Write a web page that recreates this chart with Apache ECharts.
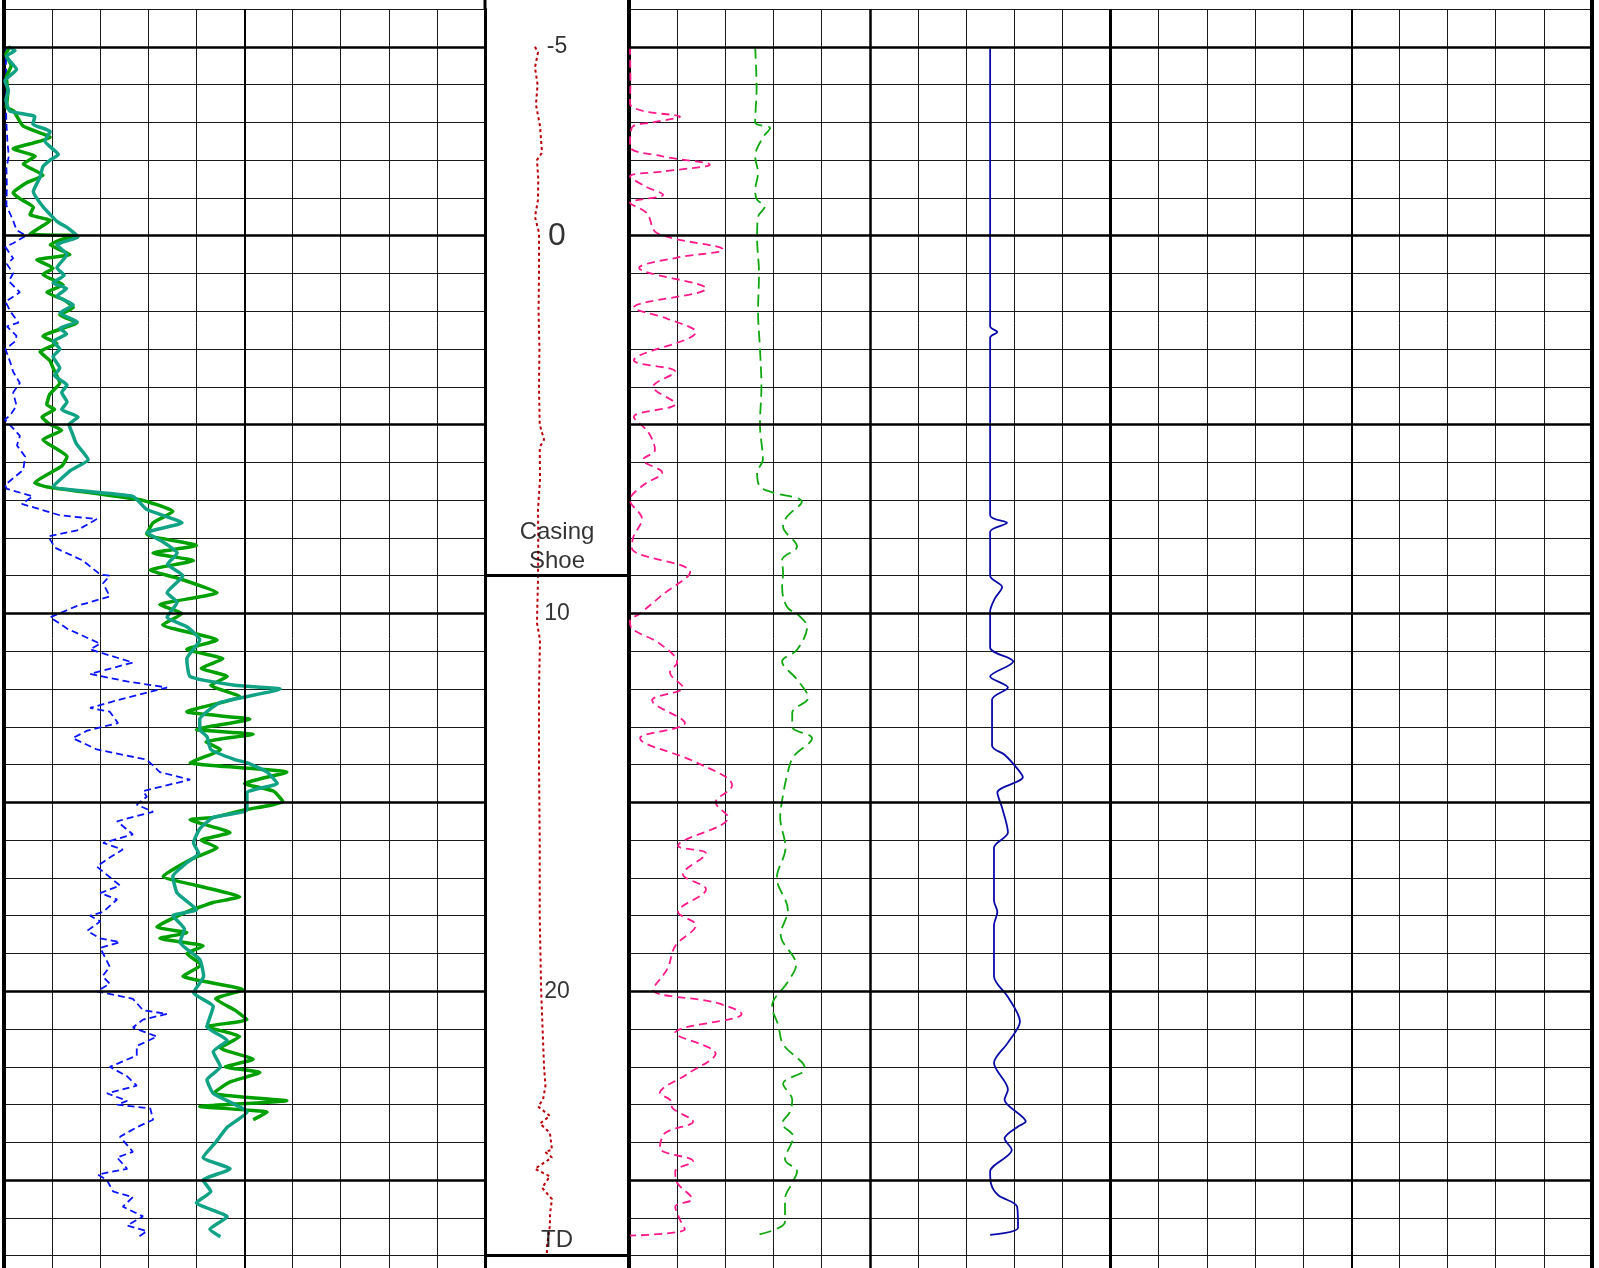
<!DOCTYPE html>
<html><head><meta charset="utf-8">
<script src="https://cdn.jsdelivr.net/npm/echarts@6/dist/echarts.min.js"></script>
<style>html,body{margin:0;padding:0;background:#fff}#c{width:1599px;height:1268px}</style>
</head><body><div id="c"></div>
<script>
// ---------- Track 1 (left) ----------
const blueDepth = [-5,-4.5,-4,-3.5,-3,-2.5,-2.1,-1.8,-1.3,-0.8,-0.4,-0.15,0,0.2,0.3,0.6,0.75,1.0,1.2,1.5,1.75,2.0,2.3,2.4,2.65,2.8,3.0,3.35,3.6,3.9,4.15,4.5,4.75,4.87,5.1,5.3,5.55,5.85,6.2,6.6,6.7,6.9,7.1,7.4,7.5,7.8,7.96,8.26,8.6,8.97,9.0,9.2,9.55,9.8,10.1,10.4,10.8,10.95,11.3,11.6,11.8,11.96,12.3,12.5,12.6,12.9,13.1,13.3,13.6,13.87,14.2,14.4,14.7,14.85,15.06,15.25,15.5,15.85,16.07,16.25,16.46,16.7,17.2,17.4,17.57,17.9,18.0,18.15,18.4,18.6,18.7,18.85,19.1,19.35,19.6,19.8,20.0,20.2,20.5,20.6,20.75,20.96,21.2,21.45,21.7,22.0,22.25,22.5,22.7,22.9,23.0,23.1,23.4,23.6,23.85,24.25,24.4,24.7,24.85,25.0,25.3,25.45,25.7,25.96,26.2,26.35,26.5];
const blueVal = [0.5,0.4,0.6,0.4,0.5,0.7,1.0,0.5,0.6,0.5,1.9,2.6,4.6,1.9,0.3,1.9,0.6,1.9,1.0,3.3,0.3,1.3,3.0,0.6,2.6,2.3,0.3,1.3,1.9,3.3,1.9,2.6,1.3,0.2,1.9,3.3,2.7,4.4,4.0,0.2,0.6,6.0,3.7,11.6,19.3,15.2,9.2,10.6,16.4,20,22,20.6,22,15.2,9.6,13.1,20,17.9,26.8,17.9,25.6,33.9,23.5,17.9,22,23.7,17.3,14.3,19.3,29.7,32.4,38.7,28.9,29.7,27.6,31,23.5,26.8,20.6,24.7,22,19.3,24.1,20,23.5,20.6,17.9,20,17.3,20,24.1,20,21,22,20.5,22,19.3,26.8,28.9,33.9,28.9,26.8,31.8,27.6,27.6,22,25.6,27.6,21.4,25.6,23.5,30.4,31,27.6,24.1,26.8,23.5,25.6,19.5,21.4,22.7,26.8,24.7,28.9,25.6,29.7,28];

const tealDepth = [-5,-4.9,-4.75,-4.4,-4.1,-3.85,-3.6,-3.3,-3.15,-2.95,-2.76,-2.5,-2.15,-2.0,-1.83,-1.55,-1.17,-0.77,-0.38,-0.2,0.03,0.24,0.5,0.85,1.05,1.25,1.4,1.6,1.83,2.05,2.28,2.45,2.6,2.8,3.0,3.2,3.5,3.7,3.95,4.15,4.4,4.6,4.8,5.0,5.2,5.5,5.93,6.2,6.64,6.9,7.25,7.6,7.86,8.1,8.4,8.7,9.0,9.45,9.7,10.1,10.35,10.7,11.2,11.67,11.9,12.0,12.36,12.8,13.07,13.26,13.6,13.87,13.95,14.2,14.5,14.74,15.2,15.4,15.7,16.07,16.35,16.6,16.96,17.4,17.84,18.0,18.35,18.7,19.16,19.6,20.04,20.4,20.94,21.3,21.6,22.0,22.34,22.7,23.2,23.6,24.0,24.4,24.7,25.0,25.3,25.6,25.97,26.3,26.5];
const tealVal = [0.9,2.3,0.5,2.6,0.2,0.9,0.4,1.2,6.4,6,9.6,8.5,11.3,9.6,8.1,7.5,6.1,8.1,11,13.3,15.4,11,13.1,11,12.5,10.2,13,11,14.4,11.6,15.2,11.6,13,10.2,11.6,10.2,11.6,10.5,13.1,12,13.1,12,15.4,13.5,14.1,15,17.5,14,10.2,26.8,29.7,37,29.7,33,36,34,37.2,33.9,36,33.9,38,40.7,38,38.7,48,57.4,44.9,40.7,40.7,42.2,43,48,50.5,54.7,56.8,50.5,50.5,43.5,40.7,39.4,40.5,38,35.1,36,40,35.1,37.5,36.6,40.7,41.5,39.4,43.5,42.2,46.4,43.5,45,42.2,43.5,50.5,46.4,44,41.4,47,41.4,43,40,46.4,42.8,45];

const greenDepth = [-5,-4.8,-4.5,-4.2,-3.8,-3.4,-3.3,-2.9,-2.6,-2.45,-2.3,-2.1,-1.9,-1.6,-1.4,-1.13,-0.98,-0.75,-0.56,-0.4,-0.05,0.0,0.1,0.24,0.5,0.64,0.86,1.03,1.3,1.5,1.7,1.9,2.1,2.3,2.66,2.85,3.07,3.3,3.5,3.9,4.2,4.47,4.6,4.8,5.0,5.15,5.4,5.85,6.1,6.54,6.65,6.99,7.3,7.6,7.9,8.2,8.4,8.6,8.85,9.1,9.45,9.77,10.0,10.3,10.7,10.95,11.2,11.45,11.67,11.9,12.2,12.6,12.8,13.07,13.2,13.4,13.6,13.95,14.2,14.5,14.7,14.98,15.2,15.4,15.46,15.8,16.0,16.2,16.5,16.96,17.2,17.5,17.65,17.9,18.3,18.45,18.6,18.8,19.0,19.3,19.6,19.96,20.2,20.5,20.75,20.94,21.2,21.5,21.8,22.0,22.15,22.4,22.7,22.9,23.05,23.2,23.4];
const greenVal = [1.2,0.4,1.5,0.5,0.8,0.5,2,4,9.6,6,1.9,6.5,4,8.1,4.7,1.9,3.3,6.1,5.4,9.6,5.4,14.5,12,9.6,13.7,6.8,10.2,8.1,12.3,8.9,12.5,14.4,11.6,15.2,8.1,11,7.5,9.5,10.2,11.6,9.5,8.9,10.5,7.9,9.6,12,8.1,13.1,12,6.4,9,28.3,35.1,31,29.7,40,31,39.4,30.4,37,44.3,32.4,37,33,44.3,38,45.5,41,46.4,43,49,38,51.1,40,51.8,42,45,38.7,58.8,50,56,58,50,43.5,38.7,47,41,44.3,39,33.1,40,49,43.5,38,31.8,38,32.4,41.4,38,41,37.2,49.7,44,48,50.5,42.2,49,45,51.8,46,53.2,47,43.5,58.8,40.7,54.7,51.8];

// ---------- Middle track ----------
const redDepth = [-5,-4.85,-4.45,-4,-3.47,-2.9,-2.2,-2.0,-1.5,-0.95,-0.5,-0.08,1,2,3,4,5,5.4,5.6,6.46,7.25,8,9.1,10.25,10.7,12,14,16,18,20,21,22,22.5,22.87,23.05,23.3,23.5,23.75,24.2,24.25,24.4,24.7,24.9,25.2,25.5,25.9,26.2,26.75,27];
const redVal = [34.7,36.8,34.7,36.5,35.4,38.2,39.6,36.1,37,36.8,34.7,37.5,37.5,37.2,37.8,37.5,38,41,38,38.2,36.8,37,36.8,36.1,38.2,37.5,37.5,38,38,39,40,41,42,40.3,36.8,45.1,38.2,45.1,46.5,41.7,46.5,34.7,45.1,39.6,46.5,45.1,45.1,43,43];
const depthLabelDepths = [-5, 0, 10, 20];
const depthLabelTexts = ['-5', '0', '10', '20'];
const notes = ['Casing\nShoe', 'TD'];
const noteDepths = [8.25, 26.6];
const casingShoeDepth = 9;
const tdDepth = 27;

// ---------- Track 3 (right) ----------
const pinkDepth = [-5,-4,-3.5,-3.3,-3.15,-3.0,-2.86,-2.36,-2.1,-1.88,-1.7,-1.57,-1.3,-1.08,-0.87,-0.6,-0.07,0.37,0.58,0.85,1.4,1.9,2.2,2.55,3.3,3.6,4.0,4.45,4.8,5.2,5.67,5.93,6.27,6.6,7.0,7.5,7.97,8.27,8.9,9.5,10.0,10.2,10.4,10.8,11.3,11.56,11.96,12.3,12.9,13.3,13.87,14.35,14.55,15.0,15.4,16.15,16.35,16.9,17.3,17.9,18.25,18.8,19.4,19.95,20.3,20.6,21.1,21.65,22.2,22.7,22.87,23.1,23.45,23.75,24.15,24.5,24.77,25.07,25.5,25.7,26.05,26.3,26.47];
const pinkVal = [0.2,0.3,0.2,3,10.6,5,0.6,0.2,7,16.8,7,0.2,3.5,7.1,0.2,3.7,5.8,19.5,10,2.1,16,1,8,13.9,1,9.6,5,9.6,1,4,5.4,2.9,6.9,3,0.2,2.7,0.9,0.6,12.7,7,2.3,0.2,0.6,6.4,10,8.5,11.2,4.8,11.6,2.3,12.7,20.4,21.4,18,20.6,10.2,16,11.2,16,10.2,13.9,9.6,8,5,18,23.4,9.6,18,12,6.4,8.5,9.1,13.3,7.5,6.4,13.3,9.6,10,13.1,9.6,10.6,11.6,0.2];

const lgreenDepth = [-5,-3.9,-3.0,-2.85,-2.6,-2.1,-1.66,-1.2,-0.95,-0.77,-0.5,0.07,1,2,3,4,5,5.93,6.27,6.64,6.8,7.04,7.44,7.7,8.23,8.58,8.93,9.3,9.82,10.08,10.35,10.96,11.27,11.75,12.23,12.63,13.0,13.3,13.8,14.3,14.8,15.4,16.2,17.0,17.85,18.5,19.3,19.75,20.4,20.9,21.4,22.05,22.45,22.87,23.2,23.5,23.85,24.45,24.77,25.07,25.5,26.1,26.45];
const lgreenVal = [26.2,26.5,26.2,29.3,27.8,26.2,26.8,26.2,26.6,28.2,26.8,26.6,27,26.8,27.2,27.5,27.2,27.8,26.6,27.2,29.9,35.9,32.8,32,34.9,31.8,32,31.8,32.8,35.5,37,34.9,31.8,34.9,37.2,33.9,33.9,38,34.1,32.8,32,31.4,32.5,30.7,33,31.5,34.7,33,29.7,31,32,36.6,32,33.9,33.4,31.8,34.1,32.4,34.9,33.9,32.4,32.4,26.6];

const navyDepth = [-5,2.4,2.55,2.7,7.4,7.6,7.84,9.0,9.3,9.6,9.95,10.9,11.27,11.67,11.96,12.28,13.5,13.74,14.1,14.33,14.74,15.15,15.8,16.2,17.6,17.9,18.25,19.6,20.15,20.8,21.36,21.9,22.6,22.87,23.45,23.58,23.9,24.2,24.77,25.1,25.4,25.7,26.26,26.45];
const navyVal = [75,75,76.5,75,75,78.5,75,75,77.5,76,75,75,79.8,75,78.7,75.4,75.4,78,80.6,81.8,76.5,77.5,78.7,75.8,75.8,76.5,75.8,75.8,78.7,81.2,78.7,75.8,78.7,78,82.4,80.8,78,79.5,75,75.2,76.7,80.6,80.8,75];

// major depth lines and track emphasis lines (axis values)
const majorDepths = [-5, 0, 5, 10, 15, 20, 25];
const track1Major = [50];
const track3Major = [50, 100, 150, 200];

const pairs = (vals, depths) => vals.map((v, i) => [v, depths[i]]);

const chart = echarts.init(document.getElementById('c'), null, {renderer: 'canvas'});
const FONT = 'Liberation Sans, Arial, sans-serif';
const TOP = 9, YMIN = -6, UNIT = 37.78;
const YMAX = +(YMIN + (1268 - TOP) / UNIT).toFixed(3);

const thin = {show: true, lineStyle: {color: '#1a1a1a', width: 1}};
function yAx(gi, split, edgeW) {
  return {type: 'value', gridIndex: gi, inverse: true, min: YMIN, max: YMAX, interval: 1,
    axisLabel: {show: false}, axisTick: {show: false},
    axisLine: {show: true, onZero: false, lineStyle: {color: '#000', width: edgeW}},
    splitLine: split ? thin : {show: false}};
}
function xAx(gi, max, interval, split) {
  return {type: 'value', gridIndex: gi, min: 0, max: max, interval: interval, position: 'top',
    axisLabel: {show: false}, axisTick: {show: false}, axisLine: {show: false},
    splitLine: split ? thin : {show: false}};
}
function frame(gi, hLines, vLines) {
  const data = [];
  hLines.forEach(o => data.push({yAxis: o.v, lineStyle: {width: o.w, color: '#000', type: 'solid'}}));
  vLines.forEach(o => data.push({xAxis: o.v, lineStyle: {width: o.w, color: '#000', type: 'solid'}}));
  return {type: 'line', xAxisIndex: gi, yAxisIndex: gi, data: [], z: 1, silent: true,
    markLine: {symbol: ['none', 'none'], silent: true, animation: false, label: {show: false}, data: data}};
}
function curve(gi, vals, depths, color, width, type, smooth, z) {
  return {type: 'line', xAxisIndex: gi, yAxisIndex: gi, data: pairs(vals, depths),
    showSymbol: false, symbol: 'none', smooth: smooth, z: z || 3, silent: true,
    lineStyle: {color: color, width: width, type: type}};
}

const labelData = depthLabelDepths.map((d, i) => ({
  value: [50, d], name: depthLabelTexts[i],
  label: {fontSize: depthLabelTexts[i] === '0' ? 32 : 23}
})).concat(notes.map((t, i) => ({
  value: [50, noteDepths[i]], name: t, label: {fontSize: 24, lineHeight: 29}
})));

const option = {
  animation: false,
  backgroundColor: '#fff',
  grid: [
    {left: 4, top: TOP, width: 481, bottom: 0},
    {left: 485, top: TOP, width: 144, bottom: 0},
    {left: 629, top: TOP, width: 963, bottom: 0}
  ],
  xAxis: [xAx(0, 100, 10, true), xAx(1, 100, 10, false), xAx(2, 200, 10, true)],
  yAxis: [yAx(0, true, 4), yAx(1, false, 3), yAx(2, true, 4)],
  series: [
    frame(0, majorDepths.map(v => ({v: v, w: 2.6})), track1Major.map(v => ({v: v, w: 2}))),
    frame(1, [{v: casingShoeDepth, w: 3}, {v: tdDepth, w: 3}], []),
    frame(2, majorDepths.map(v => ({v: v, w: 2.6})),
      track3Major.map(v => ({v: v, w: v === 200 ? 4 : (v === 100 ? 3 : (v === 50 ? 2.5 : 2))}))),
    curve(0, blueVal, blueDepth, '#0a14ff', 1.8, [7, 4], false),
    curve(0, greenVal, greenDepth, '#00a000', 3.5, 'solid', 0.15),
    curve(0, tealVal, tealDepth, '#12a386', 3.5, 'solid', 0.15, 4),
    curve(1, redVal, redDepth, '#b8000a', 2, [3, 3], false),
    curve(2, pinkVal, pinkDepth, '#ff1a8c', 1.8, [8, 5], 0.35),
    curve(2, lgreenVal, lgreenDepth, '#10a810', 1.8, [12, 6], 0.35),
    curve(2, navyVal, navyDepth, '#0a0aa8', 1.8, 'solid', 0.3),
    {type: 'scatter', xAxisIndex: 1, yAxisIndex: 1, symbolSize: 0, z: 5, silent: true,
      data: labelData,
      label: {show: true, position: 'inside', color: '#000', fontFamily: FONT,
        align: 'center', verticalAlign: 'middle', formatter: p => p.name}}
  ],
  graphic: [4, 485, 629, 1592].map((x, i) => ({
    type: 'line', silent: true,
    shape: {x1: x, y1: 0, x2: x, y2: TOP},
    style: {stroke: '#000', lineWidth: i === 1 ? 3 : 4}
  }))
};
chart.setOption(option);
</script>
</body></html>
